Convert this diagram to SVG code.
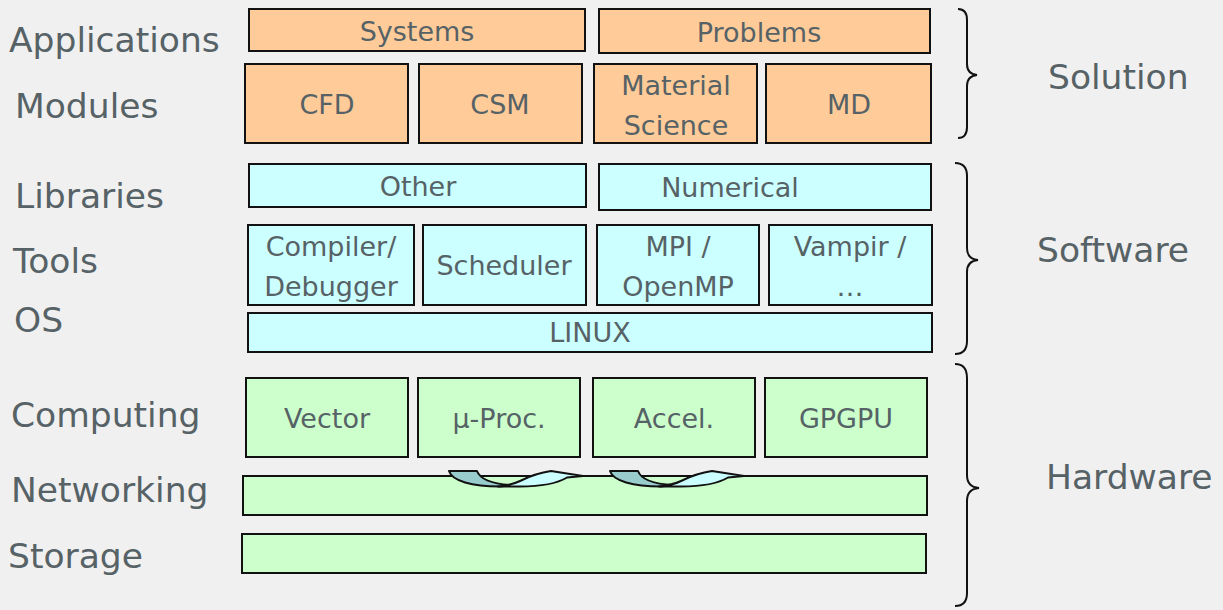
<svg xmlns="http://www.w3.org/2000/svg" width="1223" height="610" viewBox="0 0 1223 610">
<style>
.lbl{font-family:"DejaVu Sans",Verdana,sans-serif;font-size:34.5px;fill:#566266}
.t{font-family:"DejaVu Sans",Verdana,sans-serif;font-size:27px;fill:#566266;text-anchor:middle}
.o{fill:#ffcc99;stroke:#111;stroke-width:2}
.c{fill:#ccffff;stroke:#111;stroke-width:2}
.g{fill:#ccffcc;stroke:#111;stroke-width:2}
.br{fill:none;stroke:#111;stroke-width:2}
.ad{fill:#99cccc;stroke:#111;stroke-width:2;stroke-linejoin:round}
.al{fill:#ccffff;stroke:#111;stroke-width:2;stroke-linejoin:round}
</style>
<rect width="1223" height="610" fill="#f0f0f0"/>

<g id="left-labels">
<text class="lbl" x="9" y="52">Applications</text>
<text class="lbl" x="15" y="118">Modules</text>
<text class="lbl" x="15" y="208">Libraries</text>
<text class="lbl" x="13" y="273">Tools</text>
<text class="lbl" x="14" y="332">OS</text>
<text class="lbl" x="11" y="427">Computing</text>
<text class="lbl" x="11" y="502">Networking</text>
<text class="lbl" x="8" y="568">Storage</text>
</g>

<g id="right-labels">
<text class="lbl" x="1048" y="89">Solution</text>
<text class="lbl" x="1037" y="262">Software</text>
<text class="lbl" x="1046" y="489">Hardware</text>
</g>

<g id="n-systems"><rect class="o" x="249" y="9" width="336" height="42"/><text class="t" x="417" y="41">Systems</text></g>
<g id="n-problems"><rect class="o" x="599" y="9" width="331" height="44"/><text class="t" x="759" y="42">Problems</text></g>
<g id="n-cfd"><rect class="o" x="245" y="64" width="163" height="79"/><text class="t" x="327" y="114">CFD</text></g>
<g id="n-csm"><rect class="o" x="419" y="64" width="163" height="79"/><text class="t" x="500" y="114">CSM</text></g>
<g id="n-material"><rect class="o" x="594" y="64" width="163" height="79"/><text class="t" x="676" y="95">Material</text><text class="t" x="676" y="135">Science</text></g>
<g id="n-md"><rect class="o" x="766" y="64" width="165" height="79"/><text class="t" x="849" y="114">MD</text></g>

<g id="n-other"><rect class="c" x="249" y="164" width="337" height="43"/><text class="t" x="418" y="196">Other</text></g>
<g id="n-numerical"><rect class="c" x="599" y="164" width="332" height="46"/><text class="t" x="730" y="197">Numerical</text></g>
<g id="n-compiler"><rect class="c" x="248" y="225" width="166" height="80"/><text class="t" x="331" y="256">Compiler/</text><text class="t" x="331" y="296">Debugger</text></g>
<g id="n-scheduler"><rect class="c" x="423" y="225" width="163" height="80"/><text class="t" x="504" y="275">Scheduler</text></g>
<g id="n-mpi"><rect class="c" x="597" y="225" width="162" height="80"/><text class="t" x="678" y="256">MPI /</text><text class="t" x="678" y="296">OpenMP</text></g>
<g id="n-vampir"><rect class="c" x="769" y="225" width="163" height="80"/><text class="t" x="850" y="256">Vampir /</text><text class="t" x="850" y="296">…</text></g>
<g id="n-linux"><rect class="c" x="248" y="313" width="684" height="39"/><text class="t" x="590" y="342">LINUX</text></g>

<g id="n-vector"><rect class="g" x="246" y="378" width="162" height="79"/><text class="t" x="327" y="428">Vector</text></g>
<g id="n-uproc"><rect class="g" x="418" y="378" width="162" height="79"/><text class="t" x="499" y="428">μ-Proc.</text></g>
<g id="n-accel"><rect class="g" x="593" y="378" width="162" height="79"/><text class="t" x="674" y="428">Accel.</text></g>
<g id="n-gpgpu"><rect class="g" x="765" y="378" width="162" height="79"/><text class="t" x="846" y="428">GPGPU</text></g>
<g id="n-networking"><rect class="g" x="243" y="476" width="684" height="39"/></g>
<g id="n-storage"><rect class="g" x="242" y="534" width="684" height="39"/></g>

<defs>
<g id="curved-arrow">
<path class="ad" d="M449 471 L477 471 C480 479 492 484 512 485 L500 486.5 C472 486.5 452 481 449 471 Z"/>
<path class="al" d="M498 486.5 L520 486.5 C540 486.5 558 483 567 477.5 L583 476 L551 471 C540 472.5 528 477 520 481 C514 484 508 485.5 498 486.5 Z"/>
</g>
</defs>
<g id="connectors">
<use href="#curved-arrow"/>
<use href="#curved-arrow" transform="translate(161,0)"/>
</g>

<g id="braces">
<path class="br" d="M958 9 Q967 9 967 20 L967 64 Q967 74 977 75 Q967 76 967 86 L967 127 Q967 138 958 138"/>
<path class="br" d="M955 163 Q967 163 967 176 L967 248 Q967 259 978 260 Q967 261 967 272 L967 341 Q967 354 955 354"/>
<path class="br" d="M955 364 Q967 364 967 378 L967 475 Q967 487 979 488 Q967 489 967 501 L967 593 Q967 606 955 606"/>
</g>
</svg>
